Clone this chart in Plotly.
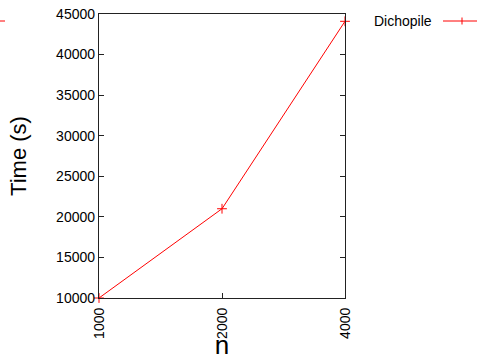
import plotly.graph_objects as go

n_values = ["1000", "2000", "4000"]
dichopile_times = [10000, 21000, 44100]
y_tick_values = [10000, 15000, 20000, 25000, 30000, 35000, 40000, 45000]
series_name = "Dichopile"

RED = "#ff0000"
FONT = "Liberation Sans, Arial, sans-serif"

# plot area at x 99-345, y 14-298 in a 477x360 page (body margin removed below)
W, H = 477, 360
ML, MR, MT, MB = 99, 132, 14, 62
PW, PH = W - ML - MR, H - MT - MB


def px(x):
    return (x - ML) / PW


def py(y):
    return (H - MB - y) / PH


fig = go.Figure()
fig.add_trace(go.Scatter(
    x=n_values, y=dichopile_times, mode="lines+markers", name=series_name,
    line=dict(color=RED, width=1),
    marker=dict(symbol="cross-thin", size=7, line=dict(color=RED, width=1), color=RED),
    showlegend=False, cliponaxis=False,
))

fig.update_layout(
    width=W, height=H,
    margin=dict(l=ML, r=MR, t=MT, b=MB, pad=0, autoexpand=False),
    paper_bgcolor="white", plot_bgcolor="white",
    font=dict(family=FONT, size=14, color="black"),
    xaxis=dict(
        type="category", range=[0, 2], showgrid=False, zeroline=False, automargin=False,
        showline=True, linecolor="#222", linewidth=1.3, mirror=True,
        ticks="inside", ticklen=5, tickcolor="#222", tickangle=-90,
        ticklabelstandoff=3, ticklabeloverflow="allow",
        tickfont=dict(size=14, family=FONT),
        title=dict(text="n", font=dict(size=26, family=FONT), standoff=6),
    ),
    yaxis=dict(
        range=[10000, 45000], tickvals=y_tick_values, tickformat="d",
        showgrid=False, zeroline=False, automargin=False,
        showline=True, linecolor="#222", linewidth=1.3, mirror="ticks",
        ticks="inside", ticklen=5, tickcolor="#222", ticklabeloverflow="allow",
        tickfont=dict(size=14, family=FONT),
        title=dict(text="Time (s)", font=dict(size=22, family=FONT), standoff=23),
    ),
    annotations=[dict(
        text=series_name, xref="paper", yref="paper", x=px(434), y=py(21),
        xanchor="right", yanchor="middle", showarrow=False,
        font=dict(size=14, family=FONT, color="black"),
    )],
    shapes=[
        dict(type="line", xref="paper", yref="paper",
             x0=px(443), x1=px(477), y0=py(21), y1=py(21),
             line=dict(color=RED, width=1)),
        dict(type="line", xref="paper", yref="paper",
             x0=px(462), x1=px(462), y0=py(17.5), y1=py(24.5),
             line=dict(color=RED, width=1)),
        dict(type="line", xref="paper", yref="paper",
             x0=px(0), x1=px(5), y0=py(21), y1=py(21),
             line=dict(color=RED, width=1)),
    ],
)

fig.write_html("out.html", config={"displayModeBar": False},
               post_script="document.body.style.margin='0';")
